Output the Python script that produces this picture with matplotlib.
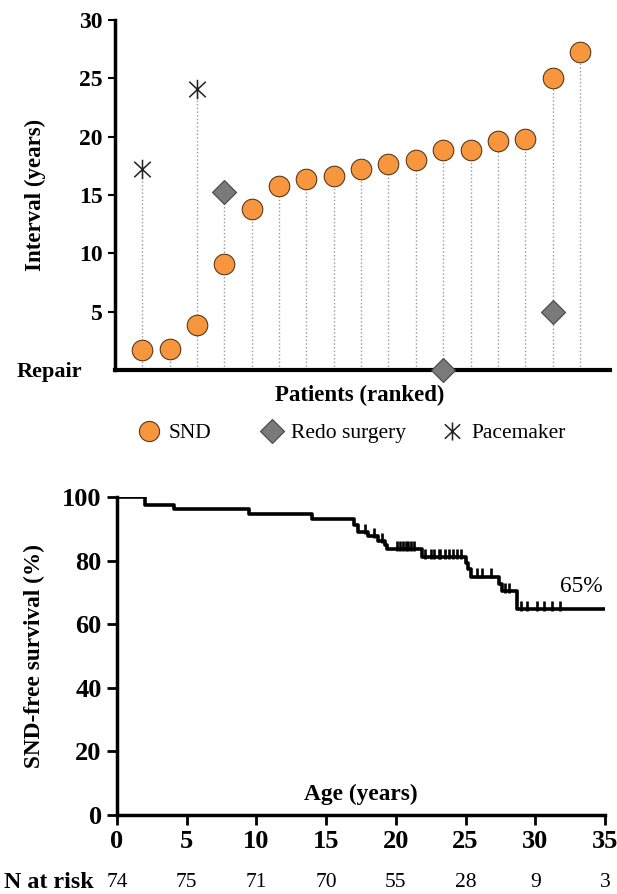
import numpy as np
import matplotlib.pyplot as plt
from matplotlib.lines import Line2D
from matplotlib.path import Path
from matplotlib.transforms import blended_transform_factory

plt.rcParams["font.family"] = ["Liberation Serif", "DejaVu Serif"]

# top panel: interval from repair per patient (ranked)
patients = np.arange(1, 18)
snd = [1.7, 1.8, 3.9, 9.1, 13.8, 15.8, 16.4, 16.6, 17.2, 17.7, 18.0, 18.9, 18.9, 19.6, 19.8, 25.0, 27.3]
redo_pat = [4, 12, 16]
redo_val = [15.3, 0.0, 5.0]
pace_pat = [1, 3]
pace_val = [17.2, 24.1]

# bottom panel: SND-free survival by age
event_times = [2.0, 4.1, 9.5, 14.0, 17.0, 17.3, 18.0, 18.7, 19.2, 19.4, 21.9,
               25.0, 25.2, 25.4, 27.4, 27.6, 28.7]
surv_after = [97.4, 96.1, 94.7, 93.2, 91.2, 89.0, 87.6, 86.2, 84.8, 83.5, 81.1,
              79.4, 77.5, 75.0, 72.7, 70.4, 64.7]
censor_times = [17.8, 18.4, 19.0, 20.1, 20.3, 20.5, 20.7, 20.9, 21.1, 21.3,
                22.1, 22.5, 22.7, 23.1, 23.2, 23.5, 23.8, 24.1, 24.4, 24.7,
                25.8, 26.2, 26.8, 27.8, 28.1, 29.0, 29.4, 30.1, 30.6, 31.2, 31.8]
risk_ages = [0, 5, 10, 15, 20, 25, 30, 35]
n_at_risk = [74, 75, 71, 70, 55, 28, 9, 3]

orange = "#F7963F"
grey = "#7A7A7A"

# asterisk: vertical stroke plus an X
pace_marker = Path([(0, -1), (0, 1), (-0.85, -0.8), (0.85, 0.8), (-0.85, 0.8), (0.85, -0.8)],
                   [Path.MOVETO, Path.LINETO] * 3)

fig = plt.figure(figsize=(6.17, 8.94), dpi=100)

# ---------- top panel ----------
ax = fig.add_axes([115/617, 1-370/894, 495/617, 350/894])
tops = np.array(snd, dtype=float)
for p, v in zip(redo_pat, redo_val):
    tops[p-1] = max(tops[p-1], v)
for p, v in zip(pace_pat, pace_val):
    tops[p-1] = max(tops[p-1], v)
ax.vlines(patients, 0, tops, colors="#9a9a9a", linestyles=":", linewidth=1.0, zorder=1)
ax.plot(patients, snd, "o", ms=14.8, mfc=orange, mec="#5a3a1a", mew=0.8, zorder=3)
ax.plot(redo_pat, redo_val, "D", ms=12.5, mfc=grey, mec="#444444", mew=0.8, zorder=4, clip_on=False)
ax.plot(pace_pat, pace_val, marker=pace_marker, ls="none", ms=14, mec="#222222", mew=1.1, zorder=3)

ax.set_xlim(0, 18.1)
ax.set_ylim(0, 30)
ax.set_yticks([5, 10, 15, 20, 25, 30])
ax.set_xticks([])
for lab in ax.get_yticklabels():
    lab.set_fontweight("bold")
ax.tick_params(axis="y", labelsize=17, length=5, width=1.5, pad=4)
ax.spines["top"].set_visible(False)
ax.spines["right"].set_visible(False)
ax.spines["left"].set_linewidth(2.5)
ax.spines["bottom"].set_linewidth(3)
ax.spines["bottom"].set_zorder(2)
ax.text(-0.067, -0.005, "Repair", transform=ax.transAxes, ha="right", va="center",
        fontsize=16, fontweight="bold")
ax.set_ylabel("Interval (years)", fontsize=16.5, fontweight="bold")
ax.yaxis.set_label_coords(-0.14, 0.5)
ax.text(0.495, -0.072, "Patients (ranked)", transform=ax.transAxes, ha="center", va="center",
        fontsize=16.5, fontweight="bold")

legend_items = [
    (Line2D([], [], ls="none", marker="o", ms=14.5, mfc=orange, mec="#5a3a1a", mew=0.8), "SND", 149),
    (Line2D([], [], ls="none", marker="D", ms=12, mfc=grey, mec="#444444", mew=0.8), "Redo surgery", 272),
    (Line2D([], [], ls="none", marker=pace_marker, ms=13, mec="#222222", mew=1.1), "Pacemaker", 452),
]
for h, lab, xc in legend_items:
    fig.legend([h], [lab], loc="center left", bbox_to_anchor=((xc - 10.8) / 617, 1-433/894),
               frameon=False, fontsize=15.5, handlelength=1.0, handletextpad=0.4,
               borderpad=0, borderaxespad=0)

# ---------- bottom panel ----------
bx = fig.add_axes([117/617, 1-815/894, 488/617, 318/894])
t = np.concatenate([[0], event_times, [35]])
s = np.concatenate([[100], surv_after, [surv_after[-1]]])
bx.step(t, s, where="post", color="black", lw=2.6, zorder=3)
idx = np.searchsorted(event_times, censor_times, side="right")
cs = np.concatenate([[100], surv_after])[idx]
bx.plot(censor_times, cs + 1.0, "|", color="black", ms=7, mew=1.9, zorder=3)

bx.set_xlim(0, 35)
bx.set_ylim(0, 100)
bx.set_xticks(risk_ages)
bx.set_yticks([0, 20, 40, 60, 80, 100])
for lab in bx.get_xticklabels() + bx.get_yticklabels():
    lab.set_fontweight("bold")
bx.tick_params(labelsize=19, length=7, width=2, pad=4)
bx.spines["top"].set_visible(False)
bx.spines["right"].set_visible(False)
bx.spines["left"].set_linewidth(2.5)
bx.spines["bottom"].set_linewidth(2.5)
bx.set_ylabel("SND-free survival (%)", fontsize=16.8, fontweight="bold")
bx.yaxis.set_label_coords(-0.148, 0.5)
bx.text(17.5, 6.5, "Age (years)", ha="center", va="center", fontsize=16.8, fontweight="bold")
bx.text(33.3, 71.7, "65%", ha="center", va="center", fontsize=16.8)

tr = blended_transform_factory(bx.transData, bx.transAxes)
bx.text(-0.232, -0.211, "N at risk", transform=bx.transAxes, ha="left", va="center",
        fontsize=17.3, fontweight="bold")
for a, n in zip(risk_ages, n_at_risk):
    bx.text(a, -0.211, str(n), transform=tr, ha="center", va="center", fontsize=15.5)

fig.savefig("out.png", dpi=100)
